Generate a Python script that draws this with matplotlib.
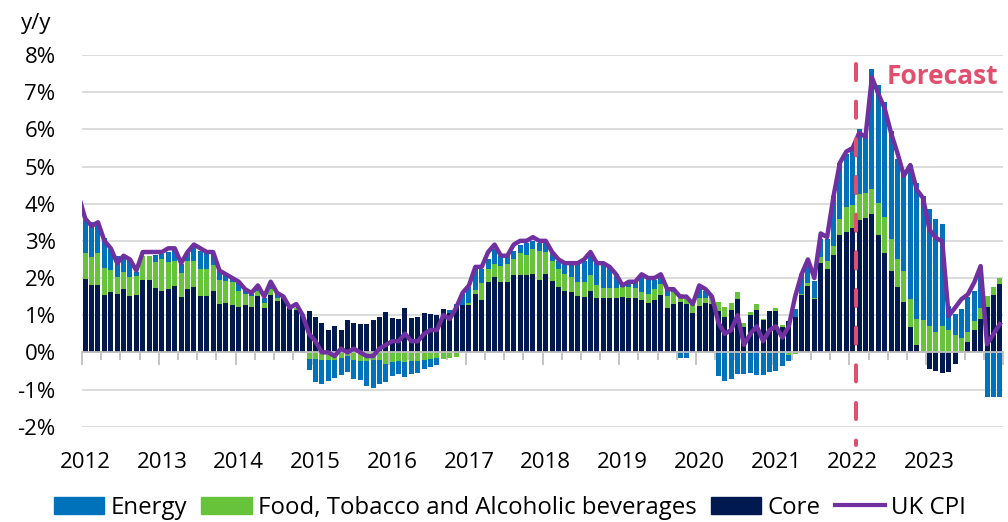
import numpy as np
import matplotlib.pyplot as plt
from matplotlib.patches import Patch
from matplotlib.lines import Line2D
from matplotlib.transforms import blended_transform_factory

plt.rcParams['font.family'] = ['Open Sans', 'DejaVu Sans']

# monthly contributions, Jan 2012 .. Dec 2023 (pp)
years = [str(y) for y in range(2012, 2024)]

core = [1.98, 1.80, 1.82, 1.54, 1.63, 1.57, 1.70, 1.52, 1.55, 1.95, 1.95, 1.73,
        1.66, 1.71, 1.79, 1.48, 1.70, 1.76, 1.52, 1.51, 1.64, 1.29, 1.34, 1.28,
        1.23, 1.27, 1.22, 1.51, 1.20, 1.55, 1.37, 1.46, 1.19, 1.15, 1.01, 1.11,
        0.95, 0.79, 0.60, 0.72, 0.59, 0.88, 0.79, 0.77, 0.77, 0.86, 0.95, 1.08,
        0.93, 0.89, 1.18, 0.92, 0.96, 1.07, 1.03, 1.00, 1.16, 1.05, 1.25, 1.27,
        1.27, 1.56, 1.41, 1.88, 2.03, 1.89, 1.89, 2.07, 2.07, 2.07, 2.12, 1.95,
        2.10, 1.92, 1.77, 1.65, 1.63, 1.51, 1.49, 1.65, 1.47, 1.46, 1.46, 1.46,
        1.50, 1.46, 1.46, 1.41, 1.32, 1.41, 1.54, 1.19, 1.31, 1.36, 1.31, 1.07,
        1.25, 1.34, 1.30, 1.12, 0.94, 1.14, 1.43, 0.67, 1.00, 1.14, 0.88, 1.10,
        1.11, 0.67, 0.85, 0.96, 1.54, 1.79, 1.43, 2.41, 2.24, 2.62, 3.15, 3.25,
        3.35, 3.57, 3.62, 3.72, 3.15, 2.66, 2.20, 1.77, 1.36, 0.67, 0.20, 0.00,
        -0.46, -0.49, -0.55, -0.54, -0.31, 0.00, 0.29, 0.61, 0.91, 1.23, 1.54, 1.84]

food = [0.68, 0.76, 0.84, 0.73, 0.58, 0.47, 0.45, 0.50, 0.50, 0.64, 0.64, 0.69,
        0.86, 0.71, 0.67, 0.65, 0.76, 0.70, 0.71, 0.72, 0.70, 0.67, 0.57, 0.60,
        0.41, 0.31, 0.30, 0.15, 0.13, 0.16, 0.09, 0.03, 0.02, 0.04, 0.01, -0.18,
        -0.18, -0.20, -0.20, -0.20, -0.15, -0.11, -0.20, -0.22, -0.22, -0.20, -0.20, -0.30,
        -0.25, -0.22, -0.25, -0.22, -0.22, -0.20, -0.18, -0.15, -0.18, -0.16, -0.13, 0.00,
        0.05, 0.13, 0.46, 0.35, 0.34, 0.43, 0.50, 0.43, 0.61, 0.56, 0.65, 0.77,
        0.60, 0.54, 0.46, 0.45, 0.41, 0.37, 0.39, 0.42, 0.33, 0.28, 0.28, 0.28,
        0.27, 0.31, 0.28, 0.22, 0.24, 0.30, 0.29, 0.33, 0.32, 0.20, 0.21, 0.20,
        0.20, 0.13, 0.15, 0.24, 0.29, 0.20, 0.20, 0.11, 0.09, 0.15, 0.03, 0.00,
        0.07, 0.06, -0.06, -0.04, 0.03, 0.08, 0.03, 0.16, 0.22, 0.23, 0.44, 0.67,
        0.62, 0.70, 0.66, 0.68, 0.87, 0.99, 0.85, 0.75, 0.83, 0.76, 0.71, 0.88,
        0.72, 0.56, 0.72, 0.61, 0.46, 0.38, 0.25, 0.24, 0.27, 0.29, 0.23, 0.16]

energy = [0.89, 0.94, 0.85, 0.81, 0.56, 0.55, 0.45, 0.50, 0.11, 0.00, 0.00, 0.19,
          0.13, 0.29, 0.31, 0.25, 0.20, 0.37, 0.50, 0.43, 0.30, 0.24, 0.19, 0.12,
          0.22, 0.10, 0.04, 0.10, 0.13, 0.15, 0.12, 0.01, 0.00, 0.00, -0.02, -0.29,
          -0.61, -0.66, -0.57, -0.50, -0.46, -0.41, -0.52, -0.52, -0.68, -0.75, -0.66, -0.49,
          -0.38, -0.36, -0.42, -0.36, -0.33, -0.26, -0.22, -0.18, 0.00, 0.10, 0.06, 0.30,
          0.45, 0.60, 0.38, 0.27, 0.40, 0.27, 0.22, 0.22, 0.22, 0.31, 0.22, 0.23,
          0.25, 0.24, 0.23, 0.27, 0.37, 0.53, 0.58, 0.52, 0.61, 0.63, 0.54, 0.36,
          0.03, 0.11, 0.22, 0.47, 0.48, 0.25, 0.21, 0.19, 0.08, -0.16, -0.15, 0.02,
          0.25, 0.18, 0.05, -0.63, -0.76, -0.71, -0.58, -0.58, -0.55, -0.61, -0.61, -0.54,
          -0.49, -0.36, -0.16, 0.20, 0.55, 0.44, 0.45, 0.48, 0.59, 1.35, 1.50, 1.43,
          1.53, 1.75, 1.60, 3.23, 3.18, 3.09, 2.90, 2.68, 2.61, 3.62, 3.64, 3.32,
          3.13, 3.04, 2.73, 0.64, 0.57, 0.78, 0.95, 0.81, 0.87, -1.21, -1.21, -1.21]

# UK CPI y/y, Dec 2011 .. Dec 2023 (forecast from Feb 2022)
cpi = [4.2,
       3.6, 3.4, 3.5, 3.0, 2.8, 2.4, 2.6, 2.5, 2.2, 2.7, 2.7, 2.7,
       2.7, 2.8, 2.8, 2.4, 2.7, 2.9, 2.8, 2.7, 2.7, 2.2, 2.1, 2.0,
       1.9, 1.7, 1.6, 1.8, 1.5, 1.9, 1.6, 1.5, 1.2, 1.3, 1.0, 0.5,
       0.3, 0.0, 0.0, -0.1, 0.1, 0.0, 0.1, 0.0, -0.1, -0.1, 0.1, 0.2,
       0.3, 0.3, 0.5, 0.3, 0.3, 0.5, 0.6, 0.6, 1.0, 0.9, 1.2, 1.6,
       1.8, 2.3, 2.3, 2.7, 2.9, 2.6, 2.6, 2.9, 3.0, 3.0, 3.1, 3.0,
       3.0, 2.7, 2.5, 2.4, 2.4, 2.4, 2.5, 2.7, 2.4, 2.4, 2.3, 2.1,
       1.8, 1.9, 1.9, 2.1, 2.0, 2.0, 2.1, 1.7, 1.7, 1.5, 1.5, 1.3,
       1.8, 1.7, 1.5, 0.8, 0.5, 0.6, 1.0, 0.2, 0.5, 0.7, 0.3, 0.6,
       0.7, 0.4, 0.7, 1.5, 2.1, 2.5, 2.0, 3.2, 3.1, 4.2, 5.1, 5.4,
       5.5, 5.9, 5.8, 7.4, 6.96, 6.56, 5.9, 5.36, 4.75, 5.04, 4.38, 4.15,
       3.3, 3.08, 2.99, 0.98, 1.2, 1.43, 1.56, 1.88, 2.32, 0.22, 0.49, 0.76]

forecast_start = 120.5   # between Jan and Feb 2022

c_energy = '#0072BC'
c_food = '#66C33A'
c_core = '#001A4F'
c_cpi = '#7030A0'
c_fc = '#E0506E'

fig = plt.figure(figsize=(10.08, 5.22), dpi=100)
ax = fig.add_axes([82 / 1008, 1 - 426.7 / 522, 921 / 1008, 371.7 / 522])

x = np.arange(len(core))
pos = np.zeros(len(x))
neg = np.zeros(len(x))
for vals, col in [(core, c_core), (food, c_food), (energy, c_energy)]:
    v = np.array(vals)
    bottom = np.where(v >= 0, pos, neg)
    ax.bar(x, v, 0.78, bottom=bottom, color=col, linewidth=0, zorder=2)
    pos += np.clip(v, 0, None)
    neg += np.clip(v, None, 0)

ax.plot(np.arange(-1, len(core)), cpi, color=c_cpi, lw=3.2, zorder=4)

ax.plot([forecast_start, forecast_start], [7.75, -2.48], color=c_fc, lw=2.9,
        ls=(0, (4, 5.35)), dash_capstyle='round', clip_on=False, zorder=5)
fig.text(887 / 1008, 1 - 76 / 522, 'Forecast', color=c_fc, fontsize=19,
         fontweight='bold', ha='left', va='center')

ax.set_xlim(-0.5, len(core) - 0.5)
ax.set_ylim(-2, 8)
ax.set_yticks(range(-2, 9))
ax.set_yticklabels([f'{v}%' for v in range(-2, 9)], fontsize=16)
ax.tick_params(axis='y', length=0, pad=19)
ax.yaxis.grid(True, color='#D9D9D9', lw=1.3)
ax.set_axisbelow(True)

for s in ['left', 'right', 'top']:
    ax.spines[s].set_visible(False)
ax.spines['bottom'].set_position(('data', 0))
ax.spines['bottom'].set_color('#BFBFBF')
ax.spines['bottom'].set_linewidth(1.3)
ax.set_xticks(np.arange(-0.5, len(core), 12))
ax.set_xticks(np.arange(-0.5, len(core), 3), minor=True)
ax.tick_params(axis='x', which='major', length=9, color='#BFBFBF', width=1.3, labelbottom=False)
ax.tick_params(axis='x', which='minor', length=6, color='#BFBFBF', width=1.3)

trans = blended_transform_factory(ax.transData, ax.transAxes)
for k, yr in enumerate(years):
    ax.text(12 * k, -0.095, yr, transform=trans, ha='center', va='center', fontsize=16)

fig.text(36 / 1008, 1 - 24 / 522, 'y/y', fontsize=16, ha='center', va='center')

handles = [Patch(color=c_energy, label='Energy'),
           Patch(color=c_food, label='Food, Tobacco and Alcoholic beverages'),
           Patch(color=c_core, label='Core'),
           Line2D([], [], color=c_cpi, lw=3, label='UK CPI')]
fig.legend(handles=handles, loc='center', bbox_to_anchor=(0.506, 1 - 508 / 522), ncol=4,
           frameon=False, fontsize=17.3, handlelength=2.1, handleheight=0.75,
           handletextpad=0.25, columnspacing=0.6)

fig.savefig('out.png', dpi=100)
